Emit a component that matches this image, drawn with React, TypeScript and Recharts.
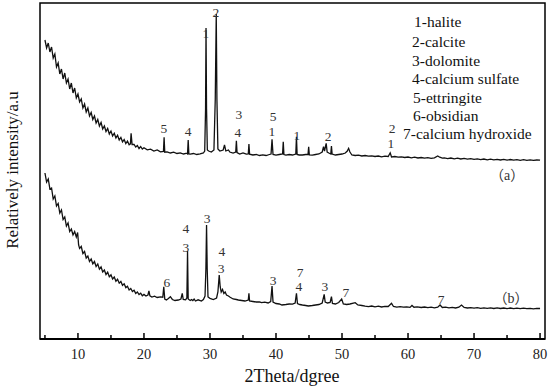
import React from 'react';
import { LineChart, Line, XAxis, YAxis, ReferenceArea, ReferenceDot } from 'recharts';

// Sample (a): 2theta (deg) and relative intensity (a.u.)
const anglesA = [
  5.0, 5.25, 5.5, 5.75, 6.0, 6.25, 6.5, 6.75, 7.0, 7.25, 7.5, 7.75, 8.0, 8.25, 8.5, 8.75, 9.0, 9.25, 9.5, 9.75,
  10.0, 10.25, 10.5, 10.75, 11.0, 11.25, 11.5, 11.75, 12.0, 12.25, 12.5, 12.75, 13.0, 13.25, 13.5, 13.75,
  14.0, 14.25, 14.5, 14.75, 15.0, 15.25, 15.5, 15.75, 16.0, 16.25, 16.5, 16.75, 17.0, 17.25, 17.5, 17.75,
  17.95, 18.05, 18.2, 18.5, 18.75, 19.0, 19.25, 19.5, 19.75, 20.0, 20.5, 21.0, 21.5, 22.0, 22.5, 22.95,
  23.05, 23.15, 23.5, 24.0, 24.5, 25.0, 25.5, 26.0, 26.5, 26.6, 26.7, 26.8, 27.0, 27.5, 28.0, 28.5, 29.0,
  29.2, 29.33, 29.4, 29.48, 29.6, 29.8, 30.2, 30.6, 30.8, 30.95, 31.05, 31.2, 31.5, 32.0, 32.2, 32.4, 32.8,
  33.0, 33.5, 33.9, 34.0, 34.1, 34.5, 35.0, 35.5, 35.8, 35.9, 36.0, 36.5, 37.0, 37.5, 38.0, 38.5, 39.0,
  39.25, 39.4, 39.55, 40.0, 40.5, 41.0, 41.1, 41.2, 41.5, 42.0, 42.5, 43.0, 43.1, 43.2, 43.5, 44.0, 44.5,
  44.85, 44.95, 45.05, 45.5, 46.0, 46.5, 47.0, 47.2, 47.35, 47.6, 47.75, 48.0, 48.3, 48.4, 48.5, 49.0,
  49.5, 50.0, 50.5, 50.8, 51.0, 51.2, 51.5, 52.0, 52.5, 53.0, 53.5, 54.0, 54.5, 55.0, 55.5, 56.0, 56.5,
  57.0, 57.3, 57.5, 58.0, 58.5, 59.0, 59.5, 60.0, 60.5, 61.0, 61.5, 62.0, 62.5, 63.0, 63.5, 64.0, 64.5,
  64.8, 65.2, 65.5, 66.0, 66.5, 67.0, 67.5, 68.0, 68.5, 69.0, 69.5, 70.0, 70.5, 71.0, 71.5, 72.0, 72.5,
  73.0, 73.5, 74.0, 74.5, 75.0, 75.5, 76.0, 76.5, 77.0, 77.5, 78.0, 78.5, 79.0, 79.5, 80.0,
];
const intensityA = [
  2990, 2910, 2960, 2870, 2920, 2810, 2850, 2720, 2760, 2650, 2700, 2600, 2660, 2560, 2600, 2500, 2560, 2460, 2510, 2410,
  2450, 2370, 2400, 2310, 2350, 2270, 2310, 2230, 2265, 2195, 2230, 2160, 2195, 2130, 2165, 2100,
  2130, 2075, 2105, 2050, 2080, 2030, 2058, 2010, 2038, 1990, 2015, 1972, 1995, 1955, 1980, 1942,
  1952, 2057, 1945, 1945, 1920, 1935, 1905, 1925, 1900, 1912, 1892, 1898, 1880, 1890, 1872, 1875,
  2017, 1868, 1872, 1860, 1868, 1855, 1862, 1850, 1858, 1852, 1990, 1850, 1848, 1855, 1845, 1852, 1860,
  1880, 2300, 3110, 2300, 1890, 1880, 1870, 1890, 2400, 3250, 2400, 1900, 1880, 1890, 1940, 1880, 1890,
  1870, 1860, 1870, 1983, 1865, 1850, 1860, 1848, 1850, 1950, 1848, 1840, 1845, 1835, 1842, 1835, 1845,
  1850, 1997, 1845, 1838, 1845, 1850, 1973, 1845, 1838, 1845, 1840, 1850, 2023, 1845, 1840, 1840, 1845,
  1845, 1923, 1840, 1838, 1845, 1850, 1870, 1923, 1880, 1957, 1870, 1860, 1850, 1930, 1850, 1840,
  1845, 1850, 1860, 1880, 1907, 1870, 1840, 1835, 1838, 1830, 1835, 1828, 1832, 1825, 1830, 1822, 1828,
  1825, 1862, 1820, 1825, 1818, 1822, 1815, 1820, 1812, 1818, 1810, 1815, 1808, 1814, 1806, 1812, 1830,
  1818, 1808, 1812, 1804, 1810, 1802, 1808, 1800, 1806, 1798, 1804, 1796, 1802, 1794, 1800, 1792, 1799,
  1791, 1797, 1790, 1796, 1789, 1795, 1788, 1794, 1787, 1793, 1786, 1792, 1786, 1790, 1788,
];

// Sample (b)
const anglesB = [
  5.0, 5.25, 5.5, 5.75, 6.0, 6.25, 6.5, 6.75, 7.0, 7.25, 7.5, 7.75, 8.0, 8.25, 8.5, 8.75, 9.0, 9.25, 9.5, 9.75,
  9.95, 10.1, 10.25, 10.5, 10.75, 11.0, 11.25, 11.5, 11.75, 12.0, 12.25, 12.5, 12.75, 13.0, 13.25, 13.5, 13.75,
  14.0, 14.25, 14.5, 14.75, 15.0, 15.25, 15.5, 15.75, 16.0, 16.25, 16.5, 16.75, 17.0, 17.25, 17.5, 17.75,
  18.0, 18.25, 18.5, 18.75, 19.0, 19.25, 19.5, 19.75, 20.0, 20.3, 20.6, 20.75, 20.9, 21.2, 21.6, 22.0, 22.5,
  22.85, 23.0, 23.15, 23.4, 23.7, 24.0, 24.3, 24.7, 25.2, 25.6, 25.8, 25.95, 26.3, 26.5, 26.6, 26.7, 27.0,
  27.2, 27.4, 27.6, 27.8, 28.2, 28.7, 29.0, 29.25, 29.38, 29.48, 29.58, 29.7, 30.0, 30.5, 31.0, 31.2, 31.4,
  31.55, 31.7, 31.9, 32.1, 32.3, 32.5, 32.8, 33.0, 33.5, 34.0, 34.3, 34.8, 35.3, 35.8, 35.9, 36.0, 36.5,
  37.0, 37.5, 37.8, 38.3, 38.8, 39.2, 39.4, 39.55, 40.0, 40.5, 40.9, 41.5, 42.0, 42.5, 42.9, 43.1, 43.25,
  43.6, 44.0, 44.5, 44.9, 45.5, 46.0, 46.5, 47.0, 47.3, 47.45, 47.8, 48.2, 48.4, 48.55, 49.0, 49.5, 49.95,
  50.2, 50.7, 51.2, 52.0, 52.4, 53.0, 53.5, 54.0, 54.5, 55.0, 55.5, 56.0, 56.5, 57.0, 57.5, 57.8, 58.3,
  58.8, 59.3, 59.8, 60.3, 60.6, 60.9, 61.4, 62.0, 62.5, 63.0, 63.5, 64.0, 64.5, 64.85, 65.2, 65.7, 66.2,
  66.7, 67.2, 67.7, 68.1, 68.5, 69.0, 69.5, 70.0, 70.5, 71.0, 71.5, 72.0, 72.5, 73.0, 73.5, 74.0, 74.5,
  75.0, 75.5, 76.0, 76.5, 77.0, 77.5, 78.0, 78.5, 79.0, 79.5, 80.0,
];
const intensityB = [
  1660, 1570, 1600, 1500, 1510, 1400, 1430, 1330, 1355, 1260, 1290, 1195, 1220, 1130, 1160, 1075, 1100, 1040, 1075, 1020,
  1065, 940, 905, 925, 855, 875, 810, 830, 775, 800, 752, 775, 725, 750, 698, 720, 670,
  690, 645, 668, 622, 642, 600, 620, 578, 597, 558, 575, 537, 552, 514, 528, 490,
  505, 474, 488, 456, 470, 445, 458, 433, 446, 430, 440, 480, 432, 420, 428, 415, 422,
  418, 523, 400, 390, 405, 423, 395, 385, 390, 400, 457, 395, 392, 410, 880, 400, 385,
  395, 385, 400, 380, 392, 380, 395, 430, 700, 1140, 700, 420, 407, 395, 410, 470, 640,
  520, 470, 495, 455, 470, 440, 430, 420, 400, 395, 390, 385, 380, 390, 457, 380, 375,
  370, 372, 363, 368, 360, 375, 530, 370, 355, 350, 340, 345, 350, 348, 360, 457, 355,
  345, 340, 335, 330, 335, 340, 345, 360, 447, 370, 360, 365, 423, 355, 350, 365, 400,
  350, 345, 350, 363, 340, 335, 328, 323, 330, 322, 328, 320, 326, 325, 357, 325, 318,
  324, 318, 322, 316, 335, 318, 322, 315, 320, 314, 318, 312, 318, 340, 315, 318, 312,
  316, 310, 318, 340, 315, 310, 314, 308, 313, 307, 312, 306, 311, 305, 311, 305, 310,
  304, 310, 304, 309, 303, 308, 303, 307, 302, 306, 305,
];

// Peak assignment labels: angle, intensity level, text
const peakAngleA = [29.39, 30.91, 23.03, 26.67, 34.39, 34.24, 39.55, 39.39, 43.18, 47.88, 57.58, 57.42];
const peakLevelA = [3060, 3270, 2110, 2080, 2250, 2070, 2230, 2080, 2040, 2030, 2110, 1960];
const peakTextA = ['1', '2', '5', '4', '3', '4', '5', '1', '1', '2', '2', '1'];
const peakAngleB = [23.48, 26.36, 26.36, 29.55, 31.82, 31.67, 39.55, 43.64, 43.48, 47.42, 50.6, 65.0];
const peakLevelB = [570, 1110, 920, 1210, 880, 710, 590, 670, 525, 530, 470, 400];
const peakTextB = ['6', '4', '3', '3', '4', '3', '3', '7', '4', '3', '7', '7'];

const sampleNames = ['（a）', '（b）'];
const sampleAngles = [75.0, 75.6];
const sampleLevels = [1640, 410];

const legendItems = [
  '1-halite', '2-calcite', '3-dolomite', '4-calcium sulfate', '5-ettringite', '6-obsidian', '7-calcium hydroxide',
];

const xTicks = [5, 10, 15, 20, 25, 30, 35, 40, 45, 50, 55, 60, 65, 70, 75, 80];

const FONT = "'Liberation Serif', 'DejaVu Serif', serif";
const FONT_CJK = "'Liberation Serif', 'Noto Sans CJK SC', serif";

const dataA = anglesA.map((t, i) => ({ t, v: intensityA[i] }));
const dataB = anglesB.map((t, i) => ({ t, v: intensityB[i] }));

const AxisTick = (props: any) => {
  const { x, y, payload } = props;
  const major = payload.value % 10 === 0;
  return (
    <g>
      <line x1={x} y1={y} x2={x} y2={y - (major ? 6 : 4)} stroke="#000" strokeWidth={1.5} />
      {major && (
        <text x={x} y={y + 15} textAnchor="middle" dominantBaseline="central" fontSize={14.5} fontFamily={FONT} fill="#222">
          {payload.value}
        </text>
      )}
    </g>
  );
};

const makeLabelShape = (txt: string, size = 14, family = FONT) => (p: any) => (
  <text x={p.cx} y={p.cy} textAnchor="middle" dominantBaseline="central" fontSize={size} fontFamily={family} fill="#333">
    {txt}
  </text>
);

const legendX = [414, 412, 412, 412, 413, 413, 403];
const legendY = [21, 41, 60, 78, 97, 115, 133];

export default function App() {
  return (
    <div style={{ position: 'absolute', left: 0, top: 0, width: 550, height: 387, background: '#fff' }}>
      <LineChart width={550} height={387} margin={{ top: 3, right: 5, left: 40, bottom: 18 }}>
        <XAxis
          dataKey="t"
          type="number"
          domain={[4.25, 80.75]}
          allowDataOverflow
          ticks={xTicks}
          interval={0}
          height={30}
          tickSize={0}
          tickMargin={0}
          tickLine={false}
          axisLine={{ stroke: '#000', strokeWidth: 2 }}
          tick={<AxisTick />}
        />
        <YAxis
          type="number"
          domain={[0, 3360]}
          allowDataOverflow
          width={0}
          tick={false}
          tickLine={false}
          axisLine={{ stroke: '#000', strokeWidth: 2 }}
        />
        <ReferenceArea x1={4.25} x2={80.75} y1={0} y2={3360} fill="none" stroke="#000" strokeWidth={1.5} />
        <Line data={dataA} dataKey="v" stroke="#111" strokeWidth={1.3} dot={false} isAnimationActive={false} />
        <Line data={dataB} dataKey="v" stroke="#111" strokeWidth={1.3} dot={false} isAnimationActive={false} />
        {peakAngleA.map((a, i) => (
          <ReferenceDot key={'a' + i} x={a} y={peakLevelA[i]} r={1} shape={makeLabelShape(peakTextA[i], 13.5)} />
        ))}
        {peakAngleB.map((a, i) => (
          <ReferenceDot key={'b' + i} x={a} y={peakLevelB[i]} r={1} shape={makeLabelShape(peakTextB[i], 13.5)} />
        ))}
        {sampleNames.map((s, i) => (
          <ReferenceDot key={'s' + i} x={sampleAngles[i]} y={sampleLevels[i]} r={1} shape={makeLabelShape(s, 14, FONT_CJK)} />
        ))}
      </LineChart>
      <svg width={550} height={387} style={{ position: 'absolute', left: 0, top: 0, pointerEvents: 'none' }}>
        {legendItems.map((s, i) => (
          <text key={s} x={legendX[i]} y={legendY[i]} dominantBaseline="central" fontSize={15.5} fontFamily={FONT} fill="#111">
            {s}
          </text>
        ))}
        <text x={292} y={376} textAnchor="middle" dominantBaseline="central" fontSize={18} fontFamily={FONT} fill="#111">
          2Theta/dgree
        </text>
        <text
          x={12}
          y={170}
          textAnchor="middle"
          dominantBaseline="central"
          fontSize={17}
          fontFamily={FONT}
          fill="#111"
          transform="rotate(-90 12 170)"
        >
          Relatively intensity/a.u
        </text>
      </svg>
    </div>
  );
}
